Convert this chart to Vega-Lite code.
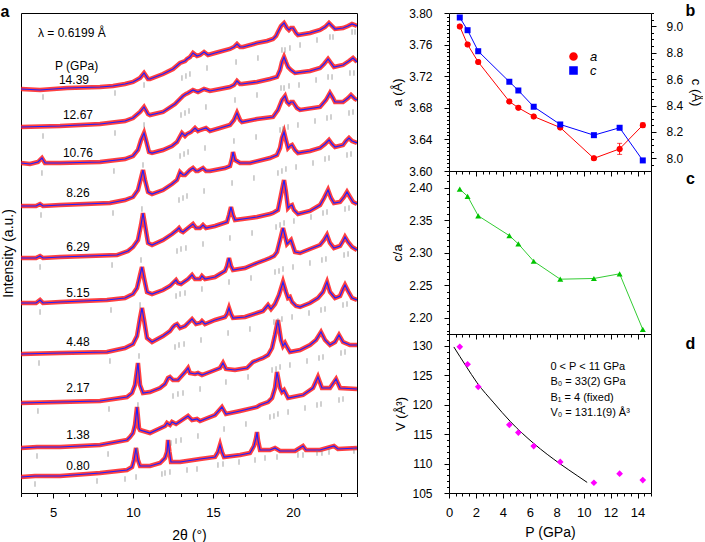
{
"$schema": "https://vega.github.io/schema/vega-lite/v6.json",
"padding": {"left": 0, "top": 2, "right": 0, "bottom": 0},
"config": {
  "font": "Liberation Sans",
  "view": {"stroke": "black", "strokeWidth": 1},
  "axis": {"domainColor": "black", "tickColor": "black", "labelColor": "black", "titleColor": "black", "labelFontSize": 12, "titleFontSize": 13, "titleFontWeight": "normal", "grid": false, "labelFont": "Liberation Sans", "titleFont": "Liberation Sans", "labelOverlap": false, "labelFlush": false, "domain": false, "tickCount": 200},
  "legend": {"labelFont": "Liberation Sans"}
},
"datasets": {
  "xrd": [
{"p":"14.39","t":3.0,"i":404},{"p":"14.39","t":4.19,"i":403},{"p":"14.39","t":5.875,"i":405},{"p":"14.39","t":7.94,"i":406},{"p":"14.39","t":8.75,"i":407},{"p":"14.39","t":9.5,"i":409},{"p":"14.39","t":10.0,"i":411},{"p":"14.39","t":10.44,"i":415},{"p":"14.39","t":10.69,"i":420},{"p":"14.39","t":10.94,"i":414},{"p":"14.39","t":11.06,"i":414},{"p":"14.39","t":11.875,"i":419},{"p":"14.39","t":12.5,"i":424},{"p":"14.39","t":12.94,"i":430},{"p":"14.39","t":13.25,"i":432},{"p":"14.39","t":13.375,"i":434},{"p":"14.39","t":13.56,"i":436},{"p":"14.39","t":13.75,"i":440},{"p":"14.39","t":14.0,"i":437},{"p":"14.39","t":14.19,"i":438},{"p":"14.39","t":14.44,"i":441},{"p":"14.39","t":14.69,"i":438},{"p":"14.39","t":15.125,"i":440},{"p":"14.39","t":16.06,"i":444},{"p":"14.39","t":16.31,"i":446},{"p":"14.39","t":16.5,"i":449},{"p":"14.39","t":16.69,"i":446},{"p":"14.39","t":16.875,"i":446},{"p":"14.39","t":17.75,"i":450},{"p":"14.39","t":18.375,"i":452},{"p":"14.39","t":18.75,"i":454},{"p":"14.39","t":18.94,"i":457},{"p":"14.39","t":19.06,"i":461},{"p":"14.39","t":19.25,"i":467},{"p":"14.39","t":19.44,"i":470},{"p":"14.39","t":19.625,"i":465},{"p":"14.39","t":19.75,"i":463},{"p":"14.39","t":19.875,"i":465},{"p":"14.39","t":20.0,"i":465},{"p":"14.39","t":20.19,"i":460},{"p":"14.39","t":20.31,"i":458},{"p":"14.39","t":21.06,"i":460},{"p":"14.39","t":21.69,"i":463},{"p":"14.39","t":22.0,"i":466},{"p":"14.39","t":22.25,"i":470},{"p":"14.39","t":22.44,"i":467},{"p":"14.39","t":22.625,"i":464},{"p":"14.39","t":23.125,"i":465},{"p":"14.39","t":23.44,"i":467},{"p":"14.39","t":23.69,"i":469},{"p":"14.39","t":23.875,"i":468},{"p":"14.39","t":24.0,"i":467},
{"p":"12.67","t":3.0,"i":366},{"p":"12.67","t":5.44,"i":367},{"p":"12.67","t":7.94,"i":369},{"p":"12.67","t":9.5,"i":372},{"p":"12.67","t":10.0,"i":375},{"p":"12.67","t":10.44,"i":381},{"p":"12.67","t":10.69,"i":386},{"p":"12.67","t":10.94,"i":379},{"p":"12.67","t":11.06,"i":378},{"p":"12.67","t":11.875,"i":381},{"p":"12.67","t":12.625,"i":389},{"p":"12.67","t":13.125,"i":397},{"p":"12.67","t":13.31,"i":399},{"p":"12.67","t":13.44,"i":400},{"p":"12.67","t":13.75,"i":403},{"p":"12.67","t":14.06,"i":401},{"p":"12.67","t":14.44,"i":404},{"p":"12.67","t":14.81,"i":402},{"p":"12.67","t":15.44,"i":404},{"p":"12.67","t":16.06,"i":406},{"p":"12.67","t":16.31,"i":408},{"p":"12.67","t":16.5,"i":412},{"p":"12.67","t":16.69,"i":409},{"p":"12.67","t":16.81,"i":409},{"p":"12.67","t":17.75,"i":411},{"p":"12.67","t":18.56,"i":414},{"p":"12.67","t":19.0,"i":416},{"p":"12.67","t":19.19,"i":423},{"p":"12.67","t":19.31,"i":431},{"p":"12.67","t":19.44,"i":436},{"p":"12.67","t":19.56,"i":431},{"p":"12.67","t":19.69,"i":426},{"p":"12.67","t":19.875,"i":423},{"p":"12.67","t":20.125,"i":420},{"p":"12.67","t":21.06,"i":422},{"p":"12.67","t":21.69,"i":425},{"p":"12.67","t":21.94,"i":429},{"p":"12.67","t":22.19,"i":434},{"p":"12.67","t":22.375,"i":430},{"p":"12.67","t":22.56,"i":426},{"p":"12.67","t":23.125,"i":428},{"p":"12.67","t":23.5,"i":432},{"p":"12.67","t":23.75,"i":435},{"p":"12.67","t":23.94,"i":432},{"p":"12.67","t":24.0,"i":431},
{"p":"10.76","t":3.0,"i":330},{"p":"10.76","t":3.56,"i":329},{"p":"10.76","t":4.06,"i":331},{"p":"10.76","t":4.31,"i":335},{"p":"10.76","t":4.5,"i":330},{"p":"10.76","t":5.44,"i":330},{"p":"10.76","t":7.94,"i":331},{"p":"10.76","t":9.5,"i":334},{"p":"10.76","t":10.0,"i":337},{"p":"10.76","t":10.31,"i":343},{"p":"10.76","t":10.5,"i":353},{"p":"10.76","t":10.69,"i":360},{"p":"10.76","t":10.81,"i":353},{"p":"10.76","t":11.0,"i":341},{"p":"10.76","t":11.19,"i":340},{"p":"10.76","t":11.875,"i":343},{"p":"10.76","t":12.44,"i":347},{"p":"10.76","t":12.75,"i":351},{"p":"10.76","t":13.06,"i":360},{"p":"10.76","t":13.25,"i":357},{"p":"10.76","t":13.375,"i":359},{"p":"10.76","t":13.625,"i":361},{"p":"10.76","t":13.875,"i":365},{"p":"10.76","t":14.06,"i":362},{"p":"10.76","t":14.19,"i":363},{"p":"10.76","t":14.56,"i":365},{"p":"10.76","t":14.81,"i":362},{"p":"10.76","t":15.44,"i":365},{"p":"10.76","t":16.06,"i":368},{"p":"10.76","t":16.31,"i":373},{"p":"10.76","t":16.5,"i":380},{"p":"10.76","t":16.69,"i":373},{"p":"10.76","t":16.81,"i":371},{"p":"10.76","t":17.75,"i":374},{"p":"10.76","t":18.75,"i":376},{"p":"10.76","t":19.06,"i":383},{"p":"10.76","t":19.31,"i":393},{"p":"10.76","t":19.5,"i":397},{"p":"10.76","t":19.625,"i":391},{"p":"10.76","t":19.75,"i":389},{"p":"10.76","t":19.875,"i":391},{"p":"10.76","t":20.0,"i":391},{"p":"10.76","t":20.25,"i":385},{"p":"10.76","t":20.44,"i":383},{"p":"10.76","t":21.69,"i":386},{"p":"10.76","t":22.06,"i":393},{"p":"10.76","t":22.31,"i":400},{"p":"10.76","t":22.5,"i":395},{"p":"10.76","t":22.625,"i":391},{"p":"10.76","t":23.125,"i":391},{"p":"10.76","t":23.44,"i":395},{"p":"10.76","t":23.625,"i":398},{"p":"10.76","t":23.875,"i":394},{"p":"10.76","t":24.0,"i":393},
{"p":"8.26","t":3.0,"i":287},{"p":"8.26","t":3.94,"i":287},{"p":"8.26","t":4.19,"i":289},{"p":"8.26","t":4.375,"i":287},{"p":"8.26","t":5.44,"i":288},{"p":"8.26","t":8.56,"i":290},{"p":"8.26","t":9.5,"i":293},{"p":"8.26","t":10.0,"i":296},{"p":"8.26","t":10.31,"i":303},{"p":"8.26","t":10.5,"i":315},{"p":"8.26","t":10.625,"i":323},{"p":"8.26","t":10.75,"i":313},{"p":"8.26","t":10.94,"i":301},{"p":"8.26","t":11.19,"i":299},{"p":"8.26","t":11.875,"i":303},{"p":"8.26","t":12.44,"i":309},{"p":"8.26","t":12.75,"i":313},{"p":"8.26","t":12.94,"i":321},{"p":"8.26","t":13.125,"i":318},{"p":"8.26","t":13.25,"i":318},{"p":"8.26","t":13.56,"i":323},{"p":"8.26","t":13.75,"i":325},{"p":"8.26","t":13.94,"i":322},{"p":"8.26","t":14.06,"i":322},{"p":"8.26","t":14.375,"i":325},{"p":"8.26","t":14.56,"i":322},{"p":"8.26","t":14.81,"i":322},{"p":"8.26","t":15.75,"i":325},{"p":"8.26","t":16.06,"i":327},{"p":"8.26","t":16.19,"i":335},{"p":"8.26","t":16.25,"i":341},{"p":"8.26","t":16.375,"i":333},{"p":"8.26","t":16.69,"i":330},{"p":"8.26","t":17.31,"i":330},{"p":"8.26","t":18.56,"i":335},{"p":"8.26","t":19.0,"i":338},{"p":"8.26","t":19.19,"i":345},{"p":"8.26","t":19.31,"i":355},{"p":"8.26","t":19.44,"i":361},{"p":"8.26","t":19.56,"i":353},{"p":"8.26","t":19.69,"i":345},{"p":"8.26","t":19.81,"i":347},{"p":"8.26","t":19.94,"i":348},{"p":"8.26","t":20.125,"i":343},{"p":"8.26","t":20.31,"i":340},{"p":"8.26","t":21.06,"i":342},{"p":"8.26","t":21.69,"i":345},{"p":"8.26","t":22.0,"i":349},{"p":"8.26","t":22.25,"i":353},{"p":"8.26","t":22.44,"i":349},{"p":"8.26","t":22.625,"i":346},{"p":"8.26","t":23.125,"i":348},{"p":"8.26","t":23.31,"i":352},{"p":"8.26","t":23.5,"i":355},{"p":"8.26","t":23.69,"i":352},{"p":"8.26","t":24.0,"i":350},
{"p":"6.29","t":3.0,"i":235},{"p":"6.29","t":3.94,"i":235},{"p":"6.29","t":4.19,"i":237},{"p":"6.29","t":4.375,"i":235},{"p":"6.29","t":5.44,"i":236},{"p":"6.29","t":9.0,"i":238},{"p":"6.29","t":9.69,"i":242},{"p":"6.29","t":10.0,"i":246},{"p":"6.29","t":10.31,"i":253},{"p":"6.29","t":10.5,"i":268},{"p":"6.29","t":10.625,"i":280},{"p":"6.29","t":10.75,"i":268},{"p":"6.29","t":10.94,"i":250},{"p":"6.29","t":11.19,"i":248},{"p":"6.29","t":11.875,"i":253},{"p":"6.29","t":12.44,"i":259},{"p":"6.29","t":12.75,"i":263},{"p":"6.29","t":12.875,"i":265},{"p":"6.29","t":13.0,"i":262},{"p":"6.29","t":13.125,"i":261},{"p":"6.29","t":13.44,"i":265},{"p":"6.29","t":13.75,"i":269},{"p":"6.29","t":13.94,"i":265},{"p":"6.29","t":14.19,"i":265},{"p":"6.29","t":14.375,"i":268},{"p":"6.29","t":14.56,"i":265},{"p":"6.29","t":15.125,"i":267},{"p":"6.29","t":15.875,"i":271},{"p":"6.29","t":16.0,"i":278},{"p":"6.29","t":16.125,"i":286},{"p":"6.29","t":16.25,"i":278},{"p":"6.29","t":16.375,"i":273},{"p":"6.29","t":17.31,"i":275},{"p":"6.29","t":17.75,"i":276},{"p":"6.29","t":18.56,"i":279},{"p":"6.29","t":18.75,"i":280},{"p":"6.29","t":19.06,"i":283},{"p":"6.29","t":19.25,"i":298},{"p":"6.29","t":19.44,"i":313},{"p":"6.29","t":19.56,"i":301},{"p":"6.29","t":19.69,"i":285},{"p":"6.29","t":19.81,"i":287},{"p":"6.29","t":19.94,"i":288},{"p":"6.29","t":20.06,"i":283},{"p":"6.29","t":20.31,"i":279},{"p":"6.29","t":21.06,"i":282},{"p":"6.29","t":21.69,"i":288},{"p":"6.29","t":21.94,"i":295},{"p":"6.29","t":22.19,"i":303},{"p":"6.29","t":22.375,"i":295},{"p":"6.29","t":22.56,"i":290},{"p":"6.29","t":22.94,"i":291},{"p":"6.29","t":23.19,"i":296},{"p":"6.29","t":23.375,"i":301},{"p":"6.29","t":23.56,"i":296},{"p":"6.29","t":23.75,"i":291},{"p":"6.29","t":24.0,"i":289},
{"p":"5.15","t":3.0,"i":190},{"p":"5.15","t":3.94,"i":190},{"p":"5.15","t":4.19,"i":193},{"p":"5.15","t":4.375,"i":190},{"p":"5.15","t":5.44,"i":191},{"p":"5.15","t":8.375,"i":193},{"p":"5.15","t":9.5,"i":195},{"p":"5.15","t":10.0,"i":199},{"p":"5.15","t":10.25,"i":205},{"p":"5.15","t":10.44,"i":218},{"p":"5.15","t":10.56,"i":226},{"p":"5.15","t":10.69,"i":215},{"p":"5.15","t":10.875,"i":201},{"p":"5.15","t":11.19,"i":199},{"p":"5.15","t":11.875,"i":203},{"p":"5.15","t":12.31,"i":207},{"p":"5.15","t":12.5,"i":210},{"p":"5.15","t":12.69,"i":213},{"p":"5.15","t":12.81,"i":210},{"p":"5.15","t":13.0,"i":209},{"p":"5.15","t":13.44,"i":214},{"p":"5.15","t":13.69,"i":218},{"p":"5.15","t":13.875,"i":214},{"p":"5.15","t":14.19,"i":214},{"p":"5.15","t":14.31,"i":217},{"p":"5.15","t":14.5,"i":214},{"p":"5.15","t":15.125,"i":216},{"p":"5.15","t":15.75,"i":222},{"p":"5.15","t":15.875,"i":227},{"p":"5.15","t":16.0,"i":235},{"p":"5.15","t":16.125,"i":227},{"p":"5.15","t":16.25,"i":223},{"p":"5.15","t":17.0,"i":225},{"p":"5.15","t":17.75,"i":230},{"p":"5.15","t":18.25,"i":233},{"p":"5.15","t":18.56,"i":235},{"p":"5.15","t":18.81,"i":237},{"p":"5.15","t":19.0,"i":241},{"p":"5.15","t":19.19,"i":253},{"p":"5.15","t":19.375,"i":265},{"p":"5.15","t":19.5,"i":257},{"p":"5.15","t":19.625,"i":249},{"p":"5.15","t":19.75,"i":251},{"p":"5.15","t":19.875,"i":253},{"p":"5.15","t":20.0,"i":247},{"p":"5.15","t":20.125,"i":241},{"p":"5.15","t":20.44,"i":240},{"p":"5.15","t":21.06,"i":244},{"p":"5.15","t":21.69,"i":248},{"p":"5.15","t":21.94,"i":253},{"p":"5.15","t":22.125,"i":258},{"p":"5.15","t":22.31,"i":250},{"p":"5.15","t":22.56,"i":245},{"p":"5.15","t":22.94,"i":247},{"p":"5.15","t":23.125,"i":252},{"p":"5.15","t":23.25,"i":256},{"p":"5.15","t":23.44,"i":251},{"p":"5.15","t":23.69,"i":246},{"p":"5.15","t":24.0,"i":243},
{"p":"4.48","t":3.0,"i":139},{"p":"4.48","t":5.44,"i":140},{"p":"4.48","t":8.375,"i":141},{"p":"4.48","t":9.5,"i":145},{"p":"4.48","t":10.0,"i":149},{"p":"4.48","t":10.25,"i":157},{"p":"4.48","t":10.44,"i":175},{"p":"4.48","t":10.56,"i":185},{"p":"4.48","t":10.69,"i":173},{"p":"4.48","t":10.875,"i":155},{"p":"4.48","t":11.19,"i":151},{"p":"4.48","t":11.875,"i":157},{"p":"4.48","t":12.31,"i":162},{"p":"4.48","t":12.5,"i":166},{"p":"4.48","t":12.625,"i":168},{"p":"4.48","t":12.75,"i":169},{"p":"4.48","t":12.94,"i":165},{"p":"4.48","t":13.25,"i":167},{"p":"4.48","t":13.69,"i":174},{"p":"4.48","t":13.94,"i":169},{"p":"4.48","t":14.19,"i":170},{"p":"4.48","t":14.31,"i":172},{"p":"4.48","t":14.5,"i":169},{"p":"4.48","t":15.125,"i":173},{"p":"4.48","t":15.75,"i":176},{"p":"4.48","t":15.875,"i":179},{"p":"4.48","t":16.0,"i":185},{"p":"4.48","t":16.125,"i":179},{"p":"4.48","t":16.25,"i":175},{"p":"4.48","t":17.0,"i":176},{"p":"4.48","t":17.75,"i":180},{"p":"4.48","t":18.125,"i":182},{"p":"4.48","t":18.44,"i":188},{"p":"4.48","t":18.625,"i":184},{"p":"4.48","t":18.875,"i":189},{"p":"4.48","t":19.125,"i":198},{"p":"4.48","t":19.375,"i":211},{"p":"4.48","t":19.56,"i":201},{"p":"4.48","t":19.69,"i":195},{"p":"4.48","t":19.81,"i":196},{"p":"4.48","t":19.94,"i":191},{"p":"4.48","t":20.19,"i":187},{"p":"4.48","t":20.44,"i":186},{"p":"4.48","t":21.06,"i":190},{"p":"4.48","t":21.56,"i":195},{"p":"4.48","t":21.875,"i":201},{"p":"4.48","t":22.125,"i":211},{"p":"4.48","t":22.31,"i":201},{"p":"4.48","t":22.625,"i":195},{"p":"4.48","t":22.94,"i":197},{"p":"4.48","t":23.125,"i":204},{"p":"4.48","t":23.25,"i":208},{"p":"4.48","t":23.44,"i":202},{"p":"4.48","t":23.69,"i":195},{"p":"4.48","t":24.0,"i":193},
{"p":"2.17","t":3.0,"i":90},{"p":"2.17","t":5.44,"i":91},{"p":"2.17","t":7.94,"i":92},{"p":"2.17","t":9.625,"i":96},{"p":"2.17","t":9.94,"i":100},{"p":"2.17","t":10.125,"i":108},{"p":"2.17","t":10.31,"i":130},{"p":"2.17","t":10.44,"i":108},{"p":"2.17","t":10.625,"i":100},{"p":"2.17","t":11.06,"i":101},{"p":"2.17","t":11.69,"i":105},{"p":"2.17","t":12.0,"i":109},{"p":"2.17","t":12.19,"i":115},{"p":"2.17","t":12.31,"i":116},{"p":"2.17","t":12.5,"i":113},{"p":"2.17","t":12.81,"i":113},{"p":"2.17","t":13.25,"i":121},{"p":"2.17","t":13.44,"i":125},{"p":"2.17","t":13.56,"i":120},{"p":"2.17","t":13.875,"i":119},{"p":"2.17","t":14.06,"i":120},{"p":"2.17","t":14.31,"i":118},{"p":"2.17","t":14.81,"i":121},{"p":"2.17","t":15.44,"i":125},{"p":"2.17","t":15.625,"i":130},{"p":"2.17","t":15.81,"i":124},{"p":"2.17","t":16.375,"i":123},{"p":"2.17","t":17.125,"i":125},{"p":"2.17","t":17.5,"i":131},{"p":"2.17","t":17.94,"i":134},{"p":"2.17","t":18.125,"i":135},{"p":"2.17","t":18.44,"i":138},{"p":"2.17","t":18.69,"i":145},{"p":"2.17","t":18.875,"i":158},{"p":"2.17","t":19.06,"i":173},{"p":"2.17","t":19.25,"i":153},{"p":"2.17","t":19.375,"i":147},{"p":"2.17","t":19.5,"i":150},{"p":"2.17","t":19.625,"i":146},{"p":"2.17","t":19.81,"i":141},{"p":"2.17","t":20.44,"i":143},{"p":"2.17","t":21.06,"i":148},{"p":"2.17","t":21.44,"i":153},{"p":"2.17","t":21.75,"i":161},{"p":"2.17","t":22.0,"i":153},{"p":"2.17","t":22.31,"i":148},{"p":"2.17","t":22.625,"i":151},{"p":"2.17","t":22.875,"i":158},{"p":"2.17","t":23.125,"i":151},{"p":"2.17","t":23.56,"i":148},{"p":"2.17","t":24.0,"i":148},
{"p":"1.38","t":3.0,"i":45},{"p":"1.38","t":4.0,"i":46},{"p":"1.38","t":5.44,"i":46},{"p":"1.38","t":7.94,"i":48},{"p":"1.38","t":9.625,"i":53},{"p":"1.38","t":9.81,"i":56},{"p":"1.38","t":10.0,"i":60},{"p":"1.38","t":10.125,"i":68},{"p":"1.38","t":10.25,"i":86},{"p":"1.38","t":10.375,"i":65},{"p":"1.38","t":10.44,"i":63},{"p":"1.38","t":11.06,"i":60},{"p":"1.38","t":12.0,"i":67},{"p":"1.38","t":12.125,"i":70},{"p":"1.38","t":12.31,"i":68},{"p":"1.38","t":12.44,"i":71},{"p":"1.38","t":12.69,"i":69},{"p":"1.38","t":13.44,"i":77},{"p":"1.38","t":13.69,"i":73},{"p":"1.38","t":14.0,"i":74},{"p":"1.38","t":14.19,"i":72},{"p":"1.38","t":15.125,"i":78},{"p":"1.38","t":15.56,"i":86},{"p":"1.38","t":15.81,"i":79},{"p":"1.38","t":16.69,"i":82},{"p":"1.38","t":17.75,"i":86},{"p":"1.38","t":17.94,"i":88},{"p":"1.38","t":18.44,"i":91},{"p":"1.38","t":18.69,"i":95},{"p":"1.38","t":18.875,"i":105},{"p":"1.38","t":19.0,"i":121},{"p":"1.38","t":19.19,"i":105},{"p":"1.38","t":19.31,"i":101},{"p":"1.38","t":19.44,"i":103},{"p":"1.38","t":19.69,"i":95},{"p":"1.38","t":20.625,"i":98},{"p":"1.38","t":21.25,"i":105},{"p":"1.38","t":21.56,"i":116},{"p":"1.38","t":21.81,"i":105},{"p":"1.38","t":22.31,"i":105},{"p":"1.38","t":22.69,"i":114},{"p":"1.38","t":22.94,"i":105},{"p":"1.38","t":24.0,"i":104},
{"p":"0.80","t":3.0,"i":16},{"p":"0.80","t":3.875,"i":17},{"p":"0.80","t":5.44,"i":17},{"p":"0.80","t":7.94,"i":20},{"p":"0.80","t":9.625,"i":23},{"p":"0.80","t":9.94,"i":26},{"p":"0.80","t":10.06,"i":33},{"p":"0.80","t":10.19,"i":45},{"p":"0.80","t":10.31,"i":33},{"p":"0.80","t":10.44,"i":27},{"p":"0.80","t":11.06,"i":27},{"p":"0.80","t":11.69,"i":30},{"p":"0.80","t":12.0,"i":35},{"p":"0.80","t":12.125,"i":41},{"p":"0.80","t":12.19,"i":53},{"p":"0.80","t":12.28,"i":41},{"p":"0.80","t":12.375,"i":31},{"p":"0.80","t":12.94,"i":31},{"p":"0.80","t":14.19,"i":34},{"p":"0.80","t":15.125,"i":36},{"p":"0.80","t":15.31,"i":41},{"p":"0.80","t":15.44,"i":48},{"p":"0.80","t":15.56,"i":41},{"p":"0.80","t":15.69,"i":36},{"p":"0.80","t":16.69,"i":38},{"p":"0.80","t":17.31,"i":40},{"p":"0.80","t":17.56,"i":47},{"p":"0.80","t":17.69,"i":55},{"p":"0.80","t":17.75,"i":61},{"p":"0.80","t":17.81,"i":53},{"p":"0.80","t":17.94,"i":43},{"p":"0.80","t":18.56,"i":43},{"p":"0.80","t":18.875,"i":45},{"p":"0.80","t":19.19,"i":42},{"p":"0.80","t":20.125,"i":42},{"p":"0.80","t":20.625,"i":47},{"p":"0.80","t":20.81,"i":43},{"p":"0.80","t":21.69,"i":43},{"p":"0.80","t":22.56,"i":47},{"p":"0.80","t":22.81,"i":44},{"p":"0.80","t":24.0,"i":45}
  ],
  "bragg": [
{"t":4.375,"i":396},{"t":8.875,"i":400},{"t":10.69,"i":408},{"t":13.06,"i":415},{"t":13.31,"i":417},{"t":13.56,"i":419},{"t":14.625,"i":425},{"t":16.44,"i":431},{"t":17.81,"i":435},{"t":19.31,"i":443},{"t":19.5,"i":443},{"t":19.81,"i":445},{"t":20.44,"i":448},{"t":21.5,"i":453},{"t":22.31,"i":456},{"t":22.5,"i":456},{"t":23.69,"i":461},{"t":23.875,"i":461},
{"t":4.375,"i":357},{"t":8.875,"i":360},{"t":10.69,"i":368},{"t":13.0,"i":378},{"t":13.25,"i":380},{"t":13.5,"i":382},{"t":14.56,"i":386},{"t":16.375,"i":393},{"t":17.75,"i":398},{"t":19.25,"i":405},{"t":19.44,"i":405},{"t":19.75,"i":407},{"t":20.375,"i":408},{"t":21.44,"i":413},{"t":22.19,"i":416},{"t":22.44,"i":416},{"t":23.56,"i":420},{"t":23.81,"i":420},
{"t":4.31,"i":320},{"t":8.81,"i":322},{"t":10.625,"i":328},{"t":12.94,"i":337},{"t":13.19,"i":339},{"t":13.44,"i":341},{"t":14.5,"i":345},{"t":16.31,"i":352},{"t":17.69,"i":356},{"t":19.19,"i":363},{"t":19.375,"i":364},{"t":19.69,"i":366},{"t":20.31,"i":368},{"t":21.375,"i":372},{"t":22.125,"i":375},{"t":22.375,"i":376},{"t":23.5,"i":380},{"t":23.75,"i":381},
{"t":4.25,"i":278},{"t":8.75,"i":280},{"t":10.56,"i":284},{"t":12.875,"i":293},{"t":13.125,"i":295},{"t":13.375,"i":297},{"t":14.44,"i":302},{"t":16.19,"i":310},{"t":17.56,"i":315},{"t":19.06,"i":320},{"t":19.31,"i":322},{"t":19.56,"i":324},{"t":20.19,"i":326},{"t":21.25,"i":330},{"t":22.0,"i":334},{"t":22.25,"i":335},{"t":23.375,"i":338},{"t":23.625,"i":339},
{"t":4.19,"i":226},{"t":8.69,"i":228},{"t":10.5,"i":233},{"t":12.75,"i":242},{"t":13.0,"i":244},{"t":13.31,"i":245},{"t":14.375,"i":249},{"t":16.06,"i":255},{"t":17.44,"i":260},{"t":18.94,"i":266},{"t":19.19,"i":268},{"t":19.44,"i":270},{"t":20.06,"i":272},{"t":21.125,"i":276},{"t":21.875,"i":280},{"t":22.125,"i":281},{"t":23.25,"i":284},{"t":23.5,"i":285},
{"t":4.19,"i":181},{"t":8.625,"i":183},{"t":10.44,"i":188},{"t":12.69,"i":197},{"t":12.94,"i":199},{"t":13.25,"i":200},{"t":14.31,"i":204},{"t":16.0,"i":211},{"t":17.375,"i":215},{"t":18.875,"i":221},{"t":19.125,"i":222},{"t":19.375,"i":224},{"t":20.0,"i":226},{"t":21.06,"i":230},{"t":21.81,"i":233},{"t":22.06,"i":234},{"t":23.19,"i":238},{"t":23.44,"i":239},
{"t":4.125,"i":130},{"t":8.56,"i":132},{"t":10.375,"i":137},{"t":12.625,"i":146},{"t":12.875,"i":148},{"t":13.19,"i":149},{"t":14.25,"i":153},{"t":15.94,"i":160},{"t":17.31,"i":164},{"t":18.81,"i":171},{"t":19.06,"i":172},{"t":19.31,"i":174},{"t":19.94,"i":176},{"t":21.0,"i":180},{"t":21.75,"i":183},{"t":22.0,"i":184},{"t":23.125,"i":188},{"t":23.375,"i":189},
{"t":4.06,"i":82},{"t":8.5,"i":84},{"t":10.31,"i":88},{"t":12.5,"i":97},{"t":12.81,"i":99},{"t":13.125,"i":100},{"t":14.19,"i":104},{"t":15.81,"i":111},{"t":17.19,"i":116},{"t":18.69,"i":123},{"t":18.94,"i":124},{"t":19.19,"i":126},{"t":19.81,"i":128},{"t":20.875,"i":132},{"t":21.625,"i":135},{"t":21.875,"i":136},{"t":23.0,"i":140},{"t":23.25,"i":141},
{"t":4.0,"i":37},{"t":8.44,"i":39},{"t":10.25,"i":43},{"t":12.375,"i":50},{"t":12.69,"i":52},{"t":13.0,"i":53},{"t":14.06,"i":57},{"t":15.69,"i":64},{"t":17.06,"i":69},{"t":18.56,"i":76},{"t":18.81,"i":77},{"t":19.06,"i":79},{"t":19.69,"i":81},{"t":20.75,"i":85},{"t":21.5,"i":88},{"t":21.75,"i":89},{"t":22.875,"i":93},{"t":23.125,"i":94},
{"t":3.875,"i":9},{"t":7.75,"i":12},{"t":9.5,"i":14},{"t":10.19,"i":16},{"t":11.81,"i":19},{"t":12.0,"i":20},{"t":12.31,"i":21},{"t":13.375,"i":23},{"t":14.0,"i":24},{"t":15.31,"i":28},{"t":15.625,"i":29},{"t":16.625,"i":31},{"t":17.625,"i":33},{"t":18.25,"i":35},{"t":19.0,"i":36},{"t":20.31,"i":38},{"t":20.625,"i":38},{"t":21.5,"i":40},{"t":21.81,"i":40},{"t":22.25,"i":41},{"t":23.81,"i":42}
  ],
  "plabs": [
{"t":6.31,"i":413,"s":"14.39"},{"t":6.56,"i":378,"s":"12.67"},{"t":6.56,"i":340,"s":"10.76"},{"t":6.56,"i":300,"s":"8.26"},{"t":6.56,"i":246,"s":"6.29"},{"t":6.56,"i":200,"s":"5.15"},{"t":6.56,"i":151,"s":"4.48"},{"t":6.56,"i":105,"s":"2.17"},{"t":6.56,"i":58,"s":"1.38"},{"t":6.56,"i":27,"s":"0.80"}
  ],
  "tlabs": [
{"t":4.06,"i":460,"s":"λ = 0.6199 Å"},{"t":5.125,"i":427,"s":"P (GPa)"}
  ],
  "bc": [
{"P":0.80,"k":"a","v":3.783,"lo":3.782,"hi":3.784},{"P":1.38,"k":"a","v":3.760,"lo":3.759,"hi":3.761},{"P":2.17,"k":"a","v":3.738,"lo":3.737,"hi":3.739},{"P":4.48,"k":"a","v":3.688,"lo":3.687,"hi":3.689},{"P":5.15,"k":"a","v":3.680,"lo":3.679,"hi":3.681},{"P":6.29,"k":"a","v":3.669,"lo":3.668,"hi":3.670},{"P":8.26,"k":"a","v":3.655,"lo":3.654,"hi":3.656},{"P":10.76,"k":"a","v":3.616,"lo":3.614,"hi":3.618},{"P":12.67,"k":"a","v":3.628,"lo":3.621,"hi":3.635},{"P":14.39,"k":"a","v":3.658,"lo":3.655,"hi":3.661},
{"P":0.80,"k":"c","v":9.066},{"P":1.38,"k":"c","v":8.970},{"P":2.17,"k":"c","v":8.811},{"P":4.48,"k":"c","v":8.580},{"P":5.15,"k":"c","v":8.514},{"P":6.29,"k":"c","v":8.391},{"P":8.26,"k":"c","v":8.257},{"P":10.76,"k":"c","v":8.176},{"P":12.67,"k":"c","v":8.232},{"P":14.39,"k":"c","v":7.985}
  ],
  "lat": [
{"P":0.80,"ca":2.398,"V":129.83},{"P":1.38,"ca":2.387,"V":126.86},{"P":2.17,"ca":2.357,"V":123.03},{"P":4.48,"ca":2.3265,"V":116.57},{"P":5.15,"ca":2.3137,"V":115.26},{"P":6.29,"ca":2.287,"V":112.97},{"P":8.26,"ca":2.2594,"V":110.28},{"P":10.76,"ca":2.2605,"V":106.74},{"P":12.67,"ca":2.2677,"V":108.29},{"P":14.39,"ca":2.182,"V":107.2}
  ],
  "fit": [
{"P":0.36,"V":129.8},{"P":1.25,"V":126.6},{"P":2.09,"V":123.7},{"P":3.33,"V":120.3},{"P":4.57,"V":117.1},{"P":6.3,"V":113.4},{"P":8.28,"V":109.9},{"P":9.52,"V":107.95},{"P":10.26,"V":106.8}
  ],
  "dtext": [
{"P":7.53,"V":126.35,"s":"0 < P < 11 GPa"},{"P":7.53,"V":123.77,"s":"B₀ = 33(2) GPa"},{"P":7.53,"V":121.2,"s":"B₁ = 4 (fixed)"},{"P":7.53,"V":118.6,"s":"V₀ = 131.1(9) Å³"}
  ],
  "one": [{"n": 1}]
},
"bounds": "flush",
"spacing": 92,
"hconcat": [
 {
  "width": 336, "height": 480,
  "layer": [
   {"data": {"name": "xrd"}, "mark": {"type": "line", "color": "#ff1010", "strokeWidth": 4.5, "opacity": 0.8, "clip": true},
    "encoding": {
      "x": {"field": "t", "type": "quantitative", "scale": {"domain": [3, 24], "nice": false, "zero": false},
            "axis": {"title": "2θ (°)", "titleFontSize": 14, "labelFontSize": 13, "titlePadding": 9, "tickCount": 200, "labelOverlap": false, "labelFlush": false, "values": [3,4,5,6,7,8,9,10,11,12,13,14,15,16,17,18,19,20,21,22,23,24], "labelExpr": "datum.value % 5 === 0 ? format(datum.value, 'd') : ''", "tickSize": {"condition": {"test": "datum.value % 5 === 0", "value": 5}, "value": 3.5}, "labelPadding": 8}},
      "y": {"field": "i", "type": "quantitative", "scale": {"domain": [0, 480], "nice": false, "zero": false},
            "axis": {"title": "Intensity (a.u.)", "titleFontSize": 14, "labels": false, "ticks": false, "titlePadding": 6}},
      "detail": {"field": "p", "type": "nominal"}}},
   {"data": {"name": "xrd"}, "mark": {"type": "line", "color": "#2020ff", "strokeWidth": 1.2, "clip": true},
    "encoding": {"x": {"field": "t", "type": "quantitative"}, "y": {"field": "i", "type": "quantitative"}, "detail": {"field": "p", "type": "nominal"}}},
   {"data": {"name": "bragg"}, "mark": {"type": "tick", "orient": "vertical", "color": "#7a7a7a", "size": 5.5, "thickness": 1},
    "encoding": {"x": {"field": "t", "type": "quantitative"}, "y": {"field": "i", "type": "quantitative"}}},
   {"data": {"name": "plabs"}, "mark": {"type": "text", "fontSize": 12, "align": "center", "baseline": "middle", "color": "black"},
    "encoding": {"x": {"field": "t", "type": "quantitative"}, "y": {"field": "i", "type": "quantitative"}, "text": {"field": "s"}}},
   {"data": {"name": "tlabs"}, "mark": {"type": "text", "fontSize": 12, "align": "left", "baseline": "middle", "color": "black"},
    "encoding": {"x": {"field": "t", "type": "quantitative"}, "y": {"field": "i", "type": "quantitative"}, "text": {"field": "s"}}},
   {"data": {"name": "one"}, "mark": {"type": "text", "fontSize": 16, "fontWeight": "bold", "align": "center", "baseline": "middle", "color": "black"},
    "encoding": {"x": {"datum": 2.0}, "y": {"datum": 481}, "text": {"value": "a"}}}
  ]
 },
 {
  "spacing": 0,
  "bounds": "flush",
  "vconcat": [
   {
    "width": 202, "height": 158,
    "data": {"name": "bc"},
    "layer": [
     {"transform": [{"filter": "datum.k === 'a'"}],
      "layer": [
       {"mark": {"type": "line", "strokeWidth": 1},
        "encoding": {
          "x": {"field": "P", "type": "quantitative", "scale": {"domain": [0, 15], "nice": false, "zero": false},
                "axis": {"title": null, "labels": false, "tickCount": 200, "values": [0,0.5,1,1.5,2,2.5,3,3.5,4,4.5,5,5.5,6,6.5,7,7.5,8,8.5,9,9.5,10,10.5,11,11.5,12,12.5,13,13.5,14,14.5,15], "tickSize": {"condition": {"test": "datum.value % 2 === 0", "value": 5}, "value": 3}}},
          "y": {"field": "v", "type": "quantitative", "title": "a (Å)", "scale": {"domain": [3.6, 3.8], "nice": false, "zero": false},
                "axis": {"title": "a (Å)", "titlePadding": 4, "labelPadding": 12, "tickCount": 200, "labelOverlap": false, "labelFlush": false, "values": [3.6,3.605,3.61,3.615,3.62,3.625,3.63,3.635,3.64,3.645,3.65,3.655,3.66,3.665,3.67,3.675,3.68,3.685,3.69,3.695,3.7,3.705,3.71,3.715,3.72,3.725,3.73,3.735,3.74,3.745,3.75,3.755,3.76,3.765,3.77,3.775,3.78,3.785,3.79,3.795,3.8],
                         "labelExpr": "abs(datum.value*25 - round(datum.value*25)) < 0.01 ? format(datum.value, '.2f') : ''",
                         "tickSize": {"condition": {"test": "abs(datum.value*25 - round(datum.value*25)) < 0.01", "value": 5}, "value": 2.5}}},
          "color": {"field": "k", "type": "nominal", "scale": {"domain": ["a", "c"], "range": ["#ff0000", "#0000ff"]},
                    "legend": {"orient": "none", "legendX": 546, "legendY": 37, "title": null, "labelFontStyle": "italic", "labelFontSize": 13, "symbolSize": 50, "labelOffset": 10, "rowPadding": -3}},
          "shape": {"field": "k", "type": "nominal", "scale": {"domain": ["a", "c"], "range": ["circle", "square"]}}}},
       {"mark": {"type": "errorbar", "color": "#ff0000", "ticks": {"size": 5}, "rule": {"strokeWidth": 1}},
        "encoding": {"x": {"field": "P", "type": "quantitative"}, "y": {"field": "lo", "type": "quantitative", "title": "a (Å)"}, "y2": {"field": "hi"}}},
       {"mark": {"type": "point", "filled": true, "size": 36, "opacity": 1},
        "encoding": {"x": {"field": "P", "type": "quantitative"}, "y": {"field": "v", "type": "quantitative", "title": "a (Å)"},
                     "color": {"field": "k", "type": "nominal"}, "shape": {"field": "k", "type": "nominal"}}},
       {"data": {"name": "one"}, "mark": {"type": "text", "fontSize": 16, "fontWeight": "bold", "align": "center", "baseline": "middle", "color": "black"},
        "encoding": {"x": {"datum": 17.93}, "y": {"datum": 3.803}, "text": {"value": "b"}}}
      ]},
     {"transform": [{"filter": "datum.k === 'c'"}],
      "layer": [
       {"mark": {"type": "line", "strokeWidth": 1},
        "encoding": {
          "x": {"field": "P", "type": "quantitative"},
          "y": {"field": "v", "type": "quantitative", "scale": {"domain": [7.905, 9.1], "nice": false, "zero": false},
                "axis": {"orient": "right", "title": "c (Å)", "titlePadding": 6, "labelPadding": 10, "tickCount": 200, "labelOverlap": false, "labelFlush": false, "values": [7.95,8,8.05,8.1,8.15,8.2,8.25,8.3,8.35,8.4,8.45,8.5,8.55,8.6,8.65,8.7,8.75,8.8,8.85,8.9,8.95,9,9.05,9.1],
                         "labelExpr": "abs(datum.value*5 - round(datum.value*5)) < 0.01 ? format(datum.value, '.1f') : ''",
                         "tickSize": {"condition": {"test": "abs(datum.value*5 - round(datum.value*5)) < 0.01", "value": 5}, "value": 2.5}}},
          "color": {"field": "k", "type": "nominal"}}},
       {"mark": {"type": "point", "filled": true, "size": 36, "opacity": 1},
        "encoding": {"x": {"field": "P", "type": "quantitative"}, "y": {"field": "v", "type": "quantitative"},
                     "color": {"field": "k", "type": "nominal"}, "shape": {"field": "k", "type": "nominal"}}}
      ]}
    ],
    "resolve": {"scale": {"y": "independent"}, "axis": {"y": "independent"}}
   },
   {
    "width": 202, "height": 163,
    "data": {"name": "lat"},
    "layer": [
     {"mark": {"type": "line", "color": "#33cc33", "strokeWidth": 1},
      "encoding": {
        "x": {"field": "P", "type": "quantitative", "scale": {"domain": [0, 15], "nice": false, "zero": false},
              "axis": {"title": null, "labels": false, "tickCount": 200, "values": [0,0.5,1,1.5,2,2.5,3,3.5,4,4.5,5,5.5,6,6.5,7,7.5,8,8.5,9,9.5,10,10.5,11,11.5,12,12.5,13,13.5,14,14.5,15], "tickSize": {"condition": {"test": "datum.value % 2 === 0", "value": 5}, "value": 3}}},
        "y": {"field": "ca", "type": "quantitative", "scale": {"domain": [2.175, 2.426], "nice": false, "zero": false},
              "axis": {"title": "c/a", "titlePadding": 4, "labelPadding": 12, "tickCount": 200, "labelOverlap": false, "labelFlush": false, "values": [2.18,2.19,2.2,2.21,2.22,2.23,2.24,2.25,2.26,2.27,2.28,2.29,2.3,2.31,2.32,2.33,2.34,2.35,2.36,2.37,2.38,2.39,2.4,2.41,2.42],
                       "labelExpr": "abs(datum.value*20 - round(datum.value*20)) < 0.01 ? format(datum.value, '.2f') : ''",
                       "tickSize": {"condition": {"test": "abs(datum.value*20 - round(datum.value*20)) < 0.01", "value": 5}, "value": 2.5}}}}},
     {"mark": {"type": "point", "shape": "triangle-up", "filled": true, "size": 36, "color": "#00c400", "opacity": 1},
      "encoding": {"x": {"field": "P", "type": "quantitative"}, "y": {"field": "ca", "type": "quantitative"}}},
     {"data": {"name": "one"}, "mark": {"type": "text", "fontSize": 16, "fontWeight": "bold", "align": "center", "baseline": "middle", "color": "black"},
      "encoding": {"x": {"datum": 17.93}, "y": {"datum": 2.414}, "text": {"value": "c"}}}
    ]
   },
   {
    "width": 202, "height": 159,
    "layer": [
     {"data": {"name": "fit"}, "mark": {"type": "line", "color": "black", "strokeWidth": 1, "interpolate": "monotone"},
      "encoding": {
        "x": {"field": "P", "type": "quantitative", "scale": {"domain": [0, 15], "nice": false, "zero": false},
              "axis": {"title": "P (GPa)", "titleFontSize": 14, "labelFontSize": 13, "titlePadding": 6, "tickCount": 200, "labelOverlap": false, "labelFlush": false, "values": [0,0.5,1,1.5,2,2.5,3,3.5,4,4.5,5,5.5,6,6.5,7,7.5,8,8.5,9,9.5,10,10.5,11,11.5,12,12.5,13,13.5,14,14.5,15],
                       "labelExpr": "datum.value % 2 === 0 ? format(datum.value, 'd') : ''",
                       "tickSize": {"condition": {"test": "datum.value % 2 === 0", "value": 5}, "value": 3}, "labelPadding": 8}},
        "y": {"field": "V", "type": "quantitative", "scale": {"domain": [105, 132], "nice": false, "zero": false},
              "axis": {"title": "V (Å³)", "titlePadding": 4, "labelPadding": 12, "tickCount": 200, "labelOverlap": false, "labelFlush": false, "values": [105,106,107,108,109,110,111,112,113,114,115,116,117,118,119,120,121,122,123,124,125,126,127,128,129,130,131,132],
                       "labelExpr": "datum.value % 5 === 0 ? format(datum.value, 'd') : ''",
                       "tickSize": {"condition": {"test": "datum.value % 5 === 0", "value": 5}, "value": 2.5}}}}},
     {"data": {"name": "lat"}, "mark": {"type": "point", "shape": "diamond", "filled": true, "size": 45, "color": "#ff00ff", "opacity": 1},
      "encoding": {"x": {"field": "P", "type": "quantitative"}, "y": {"field": "V", "type": "quantitative"}}},
     {"data": {"name": "dtext"}, "mark": {"type": "text", "fontSize": 11, "align": "left", "baseline": "middle", "color": "black"},
      "encoding": {"x": {"field": "P", "type": "quantitative"}, "y": {"field": "V", "type": "quantitative"}, "text": {"field": "s"}}},
     {"data": {"name": "one"}, "mark": {"type": "text", "fontSize": 16, "fontWeight": "bold", "align": "center", "baseline": "middle", "color": "black"},
      "encoding": {"x": {"datum": 17.93}, "y": {"datum": 130.3}, "text": {"value": "d"}}}
    ]
   }
  ]
 }
]
}
